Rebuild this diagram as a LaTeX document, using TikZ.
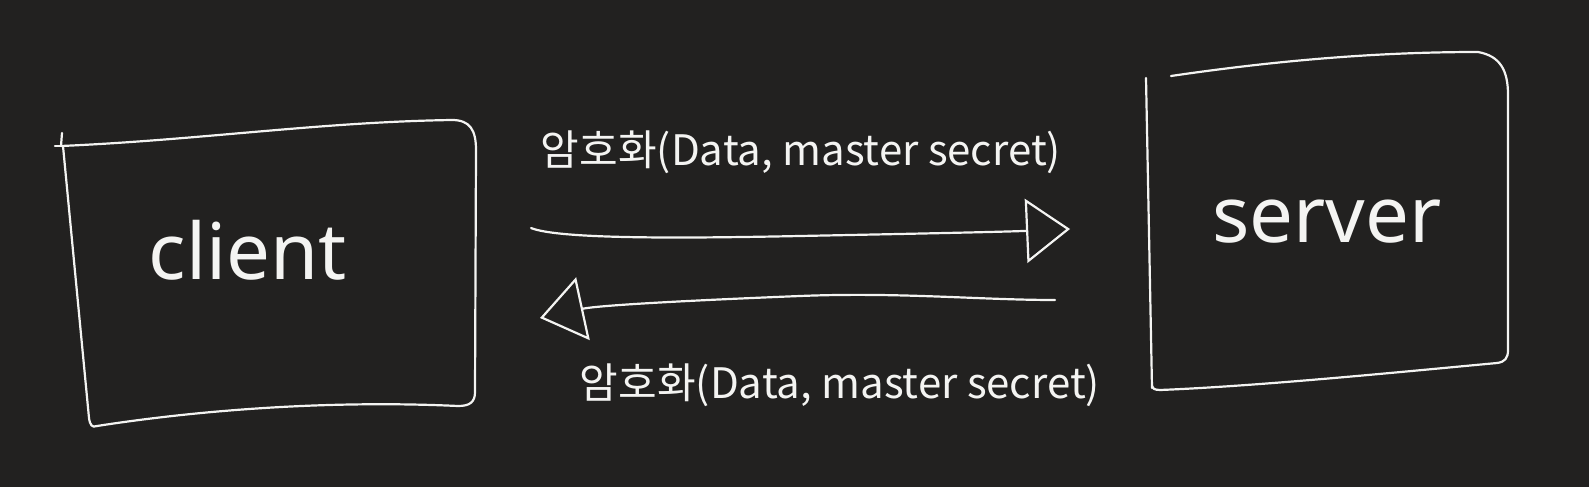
\documentclass[tikz,border=0pt]{standalone}
\usepackage{fontspec}
\setmainfont{Noto Sans}
\newfontfamily\kr{Noto Sans CJK KR}
\usetikzlibrary{arrows.meta}
\definecolor{bgdark}{HTML}{222120}
\definecolor{ink}{HTML}{F4F4F2}
\tikzset{
  pen/.style={draw=ink, line width=2.2pt, line cap=round, line join=round},
  bigtext/.style={text=ink, font=\fontsize{78}{84}\selectfont, inner sep=0pt},
  labeltext/.style={text=ink, font=\kr\fontsize{42}{48}\selectfont, inner sep=0pt},
  handarrow/.style={pen, -{Triangle[open, length=44pt, width=64pt, line width=2.2pt]}},
}
\begin{document}
\begin{tikzpicture}[x=1pt, y=-1pt]
\fill[bgdark] (0,0) rectangle (1589,487);
\useasboundingbox (0,0) rectangle (1589,487);
% client box
\draw[pen] (62,133) -- (61,146) .. controls (200,140) and (320,122) .. (452,120)
  .. controls (470,120) and (476,130) .. (476,150) -- (475,392)
  .. controls (475,402) and (470,406) .. (458,406) .. controls (330,400) and (200,410) .. (97,426)
  .. controls (92,428) and (90,425) .. (89,418) -- (63,146);
\draw[pen] (55,146) -- (63,146);
% server box
\draw[pen] (1146,78) -- (1152,388);
\draw[pen] (1171,76) .. controls (1280,60) and (1380,52) .. (1478,52)
  .. controls (1500,56) and (1508,70) .. (1508,95) -- (1508,350)
  .. controls (1508,358) and (1505,362) .. (1497,363) .. controls (1400,372) and (1260,386) .. (1160,390)
  .. controls (1154,390) and (1152,388) .. (1152,386);
% names
\node[bigtext] (client) at (248,250) {client};
\node[bigtext] (server) at (1327,222) {server};
% arrows
\coordinate (a1s) at (531,228);
\coordinate (a1e) at (1070,229);
\coordinate (a2s) at (1055,300);
\coordinate (a2e) at (540,318);
\draw[handarrow] (a1s) .. controls (560,240) and (700,238) .. (800,236) .. controls (900,234) and (1000,232) .. (a1e);
\draw[handarrow] (a2s) .. controls (980,300) and (900,292) .. (800,296) .. controls (700,300) and (600,305) .. (a2e);
% labels
\node[labeltext] (lab1) at (801,152) {암호화(Data, master secret)};
\node[labeltext] (lab2) at (840,385) {암호화(Data, master secret)};
\end{tikzpicture}
\end{document}
